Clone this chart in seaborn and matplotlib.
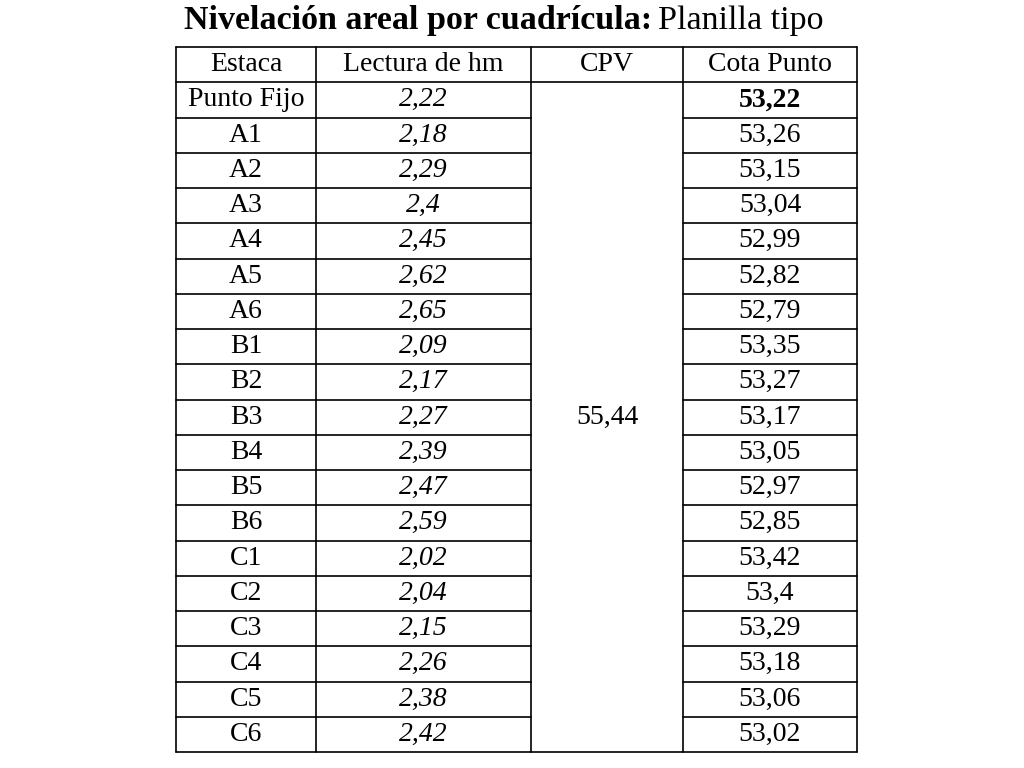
import matplotlib
matplotlib.use("Agg")
import matplotlib.pyplot as plt
import seaborn as sns

sns.set_theme(style="white")
plt.rcParams['font.family'] = ['Liberation Serif', 'DejaVu Serif']
plt.rcParams['text.color'] = 'black'

# Data
headers = ["Estaca", "Lectura de hm", "CPV", "Cota Punto"]
estacas = ["Punto Fijo", "A1", "A2", "A3", "A4", "A5", "A6", "B1", "B2", "B3",
           "B4", "B5", "B6", "C1", "C2", "C3", "C4", "C5", "C6"]
lecturas = ["2,22", "2,18", "2,29", "2,4", "2,45", "2,62", "2,65", "2,09", "2,17", "2,27",
            "2,39", "2,47", "2,59", "2,02", "2,04", "2,15", "2,26", "2,38", "2,42"]
cpv = "55,44"
cotas = ["53,22", "53,26", "53,15", "53,04", "52,99", "52,82", "52,79", "53,35", "53,27", "53,17",
         "53,05", "52,97", "52,85", "53,42", "53,4", "53,29", "53,18", "53,06", "53,02"]

# layout (pixel coords)
col_x = [176, 316, 531, 683, 857]
top, bottom = 47, 752
n_rows = len(estacas) + 1
rh = (bottom - top) / n_rows
fs = 20

fig = plt.figure(figsize=(10.24, 7.68), dpi=100)
ax = fig.add_axes([0, 0, 1, 1])
ax.set_xlim(0, 1024)
ax.set_ylim(768, 0)
ax.axis("off")

lw = 1.2
# outer + vertical lines
for x in col_x:
    ax.plot([x, x], [top, bottom], color="black", lw=lw)
# horizontal lines (skip CPV column for inner rows)
for i in range(n_rows + 1):
    y = top + i * rh
    if i <= 1 or i == n_rows:
        ax.plot([col_x[0], col_x[-1]], [y, y], color="black", lw=lw)
    else:
        ax.plot([col_x[0], col_x[2]], [y, y], color="black", lw=lw)
        ax.plot([col_x[3], col_x[4]], [y, y], color="black", lw=lw)

cx = [(col_x[i] + col_x[i + 1]) / 2 for i in range(4)]
for j, h in enumerate(headers):
    ax.text(cx[j], top + rh / 2, h, ha="center", va="center", fontsize=fs)
for i, (e, l, c) in enumerate(zip(estacas, lecturas, cotas)):
    y = top + (i + 1.5) * rh
    ax.text(cx[0], y, e, ha="center", va="center", fontsize=fs)
    ax.text(cx[1], y, l, ha="center", va="center", fontsize=fs, style="italic")
    ax.text(cx[3], y, c, ha="center", va="center", fontsize=fs,
            weight="bold" if i == 0 else "normal")
ax.text(cx[2], top + rh + (n_rows - 1) * rh / 2, cpv, ha="center", va="center", fontsize=fs)

# title
ax.text(652, 21, "Nivelación areal por cuadrícula:", ha="right", va="center",
        fontsize=24.5, weight="bold")
ax.text(658, 21, "Planilla tipo", ha="left", va="center", fontsize=24.5)

fig.savefig("out.png", dpi=100)
